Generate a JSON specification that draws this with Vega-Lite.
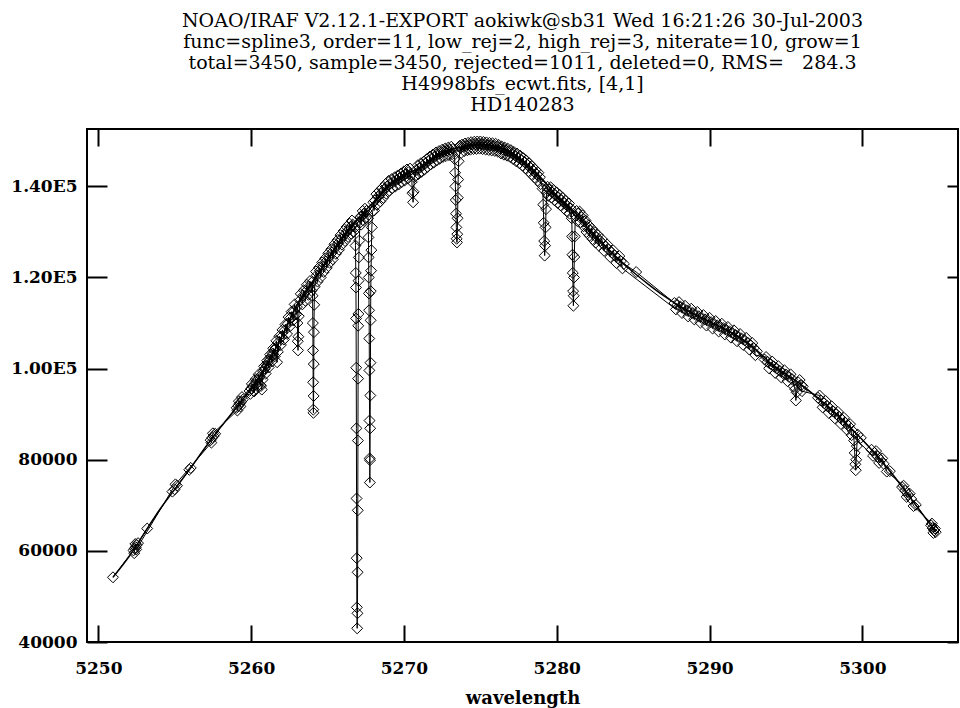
{
  "$schema": "https://vega.github.io/schema/vega-lite/v6.json",
  "autosize": {"type": "none"},
  "width": 871,
  "height": 513,
  "padding": {"left": 87, "top": 129, "right": 2, "bottom": 66},
  "background": "white",
  "config": {
    "view": {"stroke": "black", "strokeWidth": 2},
    "title": {"font": "DejaVu Serif"},
    "axis": {
      "labelFont": "DejaVu Serif",
      "labelFontWeight": "bold",
      "labelFontSize": 17,
      "labelColor": "black",
      "tickColor": "black",
      "tickWidth": 2,
      "domain": false,
      "grid": false,
      "titleFont": "DejaVu Serif",
      "titleFontWeight": "bold",
      "titleFontSize": 18,
      "titleColor": "black"
    }
  },
  "title": {
    "text": [
      "NOAO/IRAF V2.12.1-EXPORT aokiwk@sb31 Wed 16:21:26 30-Jul-2003",
      "func=spline3, order=11, low_rej=2, high_rej=3, niterate=10, grow=1",
      "total=3450, sample=3450, rejected=1011, deleted=0, RMS=\u00a0\u00a0\u00a0284.3",
      "H4998bfs_ecwt.fits, [4,1]",
      "HD140283"
    ],
    "anchor": "middle",
    "font": "DejaVu Serif",
    "fontSize": 19,
    "fontWeight": "normal",
    "color": "black",
    "lineHeight": 21,
    "offset": 13
  },
  "datasets": {
    "spec": [
      {"w": 5250.96, "f": 54200}, {"w": 5252.30, "f": 60100}, {"w": 5252.38, "f": 60500}, {"w": 5252.45, "f": 60800}, {"w": 5252.52, "f": 61300}, {"w": 5252.60, "f": 61700},
      {"w": 5253.20, "f": 64900}, {"w": 5254.85, "f": 73000}, {"w": 5255.00, "f": 73500}, {"w": 5255.15, "f": 74300}, {"w": 5255.95, "f": 77800}, {"w": 5256.05, "f": 78200},
      {"w": 5257.35, "f": 84300}, {"w": 5257.45, "f": 84800}, {"w": 5257.55, "f": 85200}, {"w": 5257.65, "f": 85700},
      {"w": 5259.05, "f": 91400}, {"w": 5259.15, "f": 91800}, {"w": 5259.25, "f": 92300}, {"w": 5259.35, "f": 92700}, {"w": 5259.45, "f": 93200},
      {"w": 5259.90, "f": 95100}, {"w": 5260.00, "f": 95600}, {"w": 5260.10, "f": 96100}, {"w": 5260.20, "f": 95000}, {"w": 5260.25, "f": 96600}, {"w": 5260.35, "f": 97200},
      {"w": 5260.45, "f": 97700}, {"w": 5260.55, "f": 98200}, {"w": 5260.65, "f": 96200}, {"w": 5260.70, "f": 95400}, {"w": 5260.75, "f": 97600}, {"w": 5260.80, "f": 99400},
      {"w": 5260.90, "f": 100000}, {"w": 5261.00, "f": 100600}, {"w": 5261.10, "f": 101300}, {"w": 5261.20, "f": 102000}, {"w": 5261.30, "f": 102600}, {"w": 5261.40, "f": 103300},
      {"w": 5261.50, "f": 104000}, {"w": 5261.60, "f": 104500}, {"w": 5261.70, "f": 101400}, {"w": 5261.80, "f": 105800}, {"w": 5262.00, "f": 107000}, {"w": 5262.20, "f": 108400},
      {"w": 5262.40, "f": 109800}, {"w": 5262.60, "f": 111200}, {"w": 5262.80, "f": 112600}, {"w": 5263.00, "f": 113500}, {"w": 5263.03, "f": 110000}, {"w": 5263.05, "f": 106000},
      {"w": 5263.07, "f": 104000}, {"w": 5263.09, "f": 107000}, {"w": 5263.12, "f": 111500}, {"w": 5263.20, "f": 115000}, {"w": 5263.40, "f": 116000}, {"w": 5263.60, "f": 117000},
      {"w": 5263.80, "f": 118000}, {"w": 5264.00, "f": 119000}, {"w": 5264.02, "f": 116000}, {"w": 5264.04, "f": 110000}, {"w": 5264.05, "f": 104000}, {"w": 5264.06, "f": 97000},
      {"w": 5264.07, "f": 91000}, {"w": 5264.08, "f": 90300}, {"w": 5264.09, "f": 94000}, {"w": 5264.10, "f": 101000}, {"w": 5264.11, "f": 108000}, {"w": 5264.13, "f": 114000},
      {"w": 5264.16, "f": 118000}, {"w": 5264.30, "f": 120500}, {"w": 5264.50, "f": 121500}, {"w": 5264.70, "f": 122500}, {"w": 5264.90, "f": 123500}, {"w": 5265.10, "f": 124500},
      {"w": 5265.30, "f": 125500}, {"w": 5265.50, "f": 126500}, {"w": 5265.70, "f": 127500}, {"w": 5265.90, "f": 128500}, {"w": 5266.10, "f": 129400}, {"w": 5266.30, "f": 130200},
      {"w": 5266.50, "f": 131000}, {"w": 5266.65, "f": 131600}, {"w": 5266.80, "f": 131000}, {"w": 5266.83, "f": 127000}, {"w": 5266.85, "f": 121000}, {"w": 5266.86, "f": 117800},
      {"w": 5266.87, "f": 111000}, {"w": 5266.88, "f": 100200}, {"w": 5266.89, "f": 86900}, {"w": 5266.90, "f": 71500}, {"w": 5266.91, "f": 58400}, {"w": 5266.92, "f": 47600},
      {"w": 5266.94, "f": 43000}, {"w": 5266.96, "f": 46300}, {"w": 5266.97, "f": 55300}, {"w": 5266.98, "f": 68900}, {"w": 5266.99, "f": 84200}, {"w": 5267.00, "f": 97800},
      {"w": 5267.01, "f": 109400}, {"w": 5267.02, "f": 112000}, {"w": 5267.03, "f": 119300}, {"w": 5267.05, "f": 124400}, {"w": 5267.08, "f": 128100}, {"w": 5267.12, "f": 132000},
      {"w": 5267.25, "f": 133500}, {"w": 5267.40, "f": 134000}, {"w": 5267.55, "f": 134600}, {"w": 5267.66, "f": 133000}, {"w": 5267.68, "f": 128800}, {"w": 5267.69, "f": 124400},
      {"w": 5267.70, "f": 120000}, {"w": 5267.71, "f": 116500}, {"w": 5267.72, "f": 112800}, {"w": 5267.73, "f": 106600}, {"w": 5267.74, "f": 99600}, {"w": 5267.75, "f": 88600},
      {"w": 5267.76, "f": 80300}, {"w": 5267.77, "f": 75000}, {"w": 5267.78, "f": 79900}, {"w": 5267.79, "f": 86900}, {"w": 5267.80, "f": 94100}, {"w": 5267.81, "f": 101300},
      {"w": 5267.82, "f": 110600}, {"w": 5267.83, "f": 117000}, {"w": 5267.85, "f": 121500}, {"w": 5267.87, "f": 126000}, {"w": 5267.90, "f": 131000}, {"w": 5267.95, "f": 134500},
      {"w": 5268.10, "f": 136900}, {"w": 5268.30, "f": 137700}, {"w": 5268.50, "f": 138400}, {"w": 5268.70, "f": 139200}, {"w": 5268.90, "f": 140000}, {"w": 5269.10, "f": 140600},
      {"w": 5269.30, "f": 141000}, {"w": 5269.50, "f": 141400}, {"w": 5269.70, "f": 141800}, {"w": 5269.90, "f": 142300}, {"w": 5270.10, "f": 142700}, {"w": 5270.30, "f": 143100},
      {"w": 5270.52, "f": 141000}, {"w": 5270.56, "f": 138500}, {"w": 5270.60, "f": 136500}, {"w": 5270.64, "f": 138800}, {"w": 5270.68, "f": 142000}, {"w": 5270.80, "f": 143600},
      {"w": 5271.00, "f": 144000}, {"w": 5271.20, "f": 144500}, {"w": 5271.40, "f": 145000}, {"w": 5271.60, "f": 145600}, {"w": 5271.80, "f": 146100}, {"w": 5272.00, "f": 146500},
      {"w": 5272.20, "f": 147000}, {"w": 5272.40, "f": 147300}, {"w": 5272.60, "f": 147600}, {"w": 5272.80, "f": 147800}, {"w": 5273.00, "f": 148000}, {"w": 5273.20, "f": 148200},
      {"w": 5273.32, "f": 146000}, {"w": 5273.35, "f": 143000}, {"w": 5273.37, "f": 140000}, {"w": 5273.39, "f": 137000}, {"w": 5273.41, "f": 134000}, {"w": 5273.43, "f": 131000},
      {"w": 5273.45, "f": 128500}, {"w": 5273.47, "f": 127700}, {"w": 5273.49, "f": 129500}, {"w": 5273.51, "f": 133000}, {"w": 5273.53, "f": 137500}, {"w": 5273.55, "f": 141500},
      {"w": 5273.58, "f": 145500}, {"w": 5273.70, "f": 148400}, {"w": 5273.90, "f": 148700}, {"w": 5274.10, "f": 148900}, {"w": 5274.30, "f": 149000}, {"w": 5274.50, "f": 149200},
      {"w": 5274.70, "f": 149200}, {"w": 5274.90, "f": 149300}, {"w": 5275.10, "f": 149200}, {"w": 5275.30, "f": 149100}, {"w": 5275.50, "f": 149000}, {"w": 5275.70, "f": 148900},
      {"w": 5275.90, "f": 148800}, {"w": 5276.10, "f": 148700}, {"w": 5276.30, "f": 148300}, {"w": 5276.50, "f": 148000}, {"w": 5276.70, "f": 147800}, {"w": 5276.90, "f": 147500},
      {"w": 5277.10, "f": 147200}, {"w": 5277.30, "f": 146700}, {"w": 5277.50, "f": 146300}, {"w": 5277.70, "f": 145800}, {"w": 5277.90, "f": 145300}, {"w": 5278.10, "f": 144700},
      {"w": 5278.30, "f": 144000}, {"w": 5278.50, "f": 143300}, {"w": 5278.70, "f": 142600}, {"w": 5278.90, "f": 142000}, {"w": 5279.08, "f": 139500}, {"w": 5279.12, "f": 136000},
      {"w": 5279.15, "f": 132000}, {"w": 5279.18, "f": 128000}, {"w": 5279.21, "f": 124800}, {"w": 5279.24, "f": 127000}, {"w": 5279.27, "f": 131000}, {"w": 5279.30, "f": 135000},
      {"w": 5279.34, "f": 138600}, {"w": 5279.50, "f": 139300}, {"w": 5279.70, "f": 138700}, {"w": 5279.90, "f": 138100}, {"w": 5280.10, "f": 137600}, {"w": 5280.30, "f": 137000},
      {"w": 5280.50, "f": 136300}, {"w": 5280.70, "f": 135700}, {"w": 5280.90, "f": 135200}, {"w": 5280.98, "f": 133000}, {"w": 5281.01, "f": 129000}, {"w": 5281.03, "f": 125000},
      {"w": 5281.05, "f": 121000}, {"w": 5281.07, "f": 117000}, {"w": 5281.09, "f": 113800}, {"w": 5281.11, "f": 116000}, {"w": 5281.13, "f": 120000}, {"w": 5281.15, "f": 124500},
      {"w": 5281.18, "f": 129000}, {"w": 5281.22, "f": 133500}, {"w": 5281.40, "f": 134000}, {"w": 5281.60, "f": 133300}, {"w": 5281.80, "f": 132300}, {"w": 5282.00, "f": 131000},
      {"w": 5282.20, "f": 130300}, {"w": 5282.40, "f": 129500}, {"w": 5282.60, "f": 128800}, {"w": 5282.85, "f": 128000}, {"w": 5283.00, "f": 127500}, {"w": 5283.20, "f": 126800},
      {"w": 5283.40, "f": 126100}, {"w": 5283.60, "f": 125500}, {"w": 5283.80, "f": 124800}, {"w": 5284.00, "f": 124200}, {"w": 5284.20, "f": 123600}, {"w": 5284.40, "f": 123000},
      {"w": 5285.20, "f": 121200}, {"w": 5287.70, "f": 114400}, {"w": 5287.90, "f": 114000}, {"w": 5288.10, "f": 113600}, {"w": 5288.30, "f": 113200}, {"w": 5288.50, "f": 112800},
      {"w": 5288.70, "f": 112500}, {"w": 5288.90, "f": 112200}, {"w": 5289.10, "f": 111800}, {"w": 5289.30, "f": 111500}, {"w": 5289.50, "f": 111100}, {"w": 5289.70, "f": 110800},
      {"w": 5289.90, "f": 110500}, {"w": 5290.10, "f": 110200}, {"w": 5290.30, "f": 109800}, {"w": 5290.50, "f": 109500}, {"w": 5290.70, "f": 109200}, {"w": 5290.90, "f": 108900},
      {"w": 5291.10, "f": 108500}, {"w": 5291.30, "f": 108200}, {"w": 5291.50, "f": 107800}, {"w": 5291.70, "f": 107400}, {"w": 5291.90, "f": 107000}, {"w": 5292.10, "f": 106600},
      {"w": 5292.30, "f": 106200}, {"w": 5292.50, "f": 105700}, {"w": 5292.70, "f": 105100}, {"w": 5292.90, "f": 104500}, {"w": 5293.10, "f": 103800}, {"w": 5293.60, "f": 102000},
      {"w": 5293.80, "f": 101500}, {"w": 5294.00, "f": 101000}, {"w": 5294.20, "f": 100500}, {"w": 5294.40, "f": 100000}, {"w": 5294.60, "f": 99500}, {"w": 5294.80, "f": 99000},
      {"w": 5295.00, "f": 98700}, {"w": 5295.20, "f": 98200}, {"w": 5295.40, "f": 97700}, {"w": 5295.60, "f": 95500}, {"w": 5295.65, "f": 93000}, {"w": 5295.70, "f": 94800},
      {"w": 5295.80, "f": 97000}, {"w": 5296.00, "f": 96400}, {"w": 5296.10, "f": 96100}, {"w": 5297.10, "f": 93600}, {"w": 5297.30, "f": 93000}, {"w": 5297.50, "f": 92400},
      {"w": 5297.70, "f": 91800}, {"w": 5297.90, "f": 91200}, {"w": 5298.10, "f": 90600}, {"w": 5298.30, "f": 90000}, {"w": 5298.50, "f": 89400}, {"w": 5298.70, "f": 88700},
      {"w": 5298.90, "f": 88100}, {"w": 5299.10, "f": 87400}, {"w": 5299.40, "f": 86200}, {"w": 5299.46, "f": 84200}, {"w": 5299.50, "f": 81500}, {"w": 5299.54, "f": 79000},
      {"w": 5299.57, "f": 77700}, {"w": 5299.60, "f": 80000}, {"w": 5299.64, "f": 83000}, {"w": 5299.70, "f": 85500}, {"w": 5299.90, "f": 84800}, {"w": 5300.60, "f": 82200},
      {"w": 5300.80, "f": 81500}, {"w": 5301.00, "f": 80700}, {"w": 5301.20, "f": 79900}, {"w": 5301.40, "f": 79100}, {"w": 5301.80, "f": 77500}, {"w": 5302.60, "f": 74000},
      {"w": 5302.80, "f": 73200}, {"w": 5303.00, "f": 72300}, {"w": 5303.20, "f": 71400}, {"w": 5303.50, "f": 70100}, {"w": 5304.50, "f": 65600}, {"w": 5304.60, "f": 65000},
      {"w": 5304.70, "f": 64500}, {"w": 5304.80, "f": 64100}
    ],
    "extra": [
      {"w": 5252.35, "f": 59500}, {"w": 5252.42, "f": 61500}, {"w": 5252.48, "f": 60300}, {"w": 5255.05, "f": 74600}, {"w": 5257.40, "f": 83750}, {"w": 5257.50, "f": 85800},
      {"w": 5259.10, "f": 90800}, {"w": 5259.20, "f": 92850}, {"w": 5259.30, "f": 91700}, {"w": 5259.40, "f": 93750}, {"w": 5259.95, "f": 94450}, {"w": 5260.05, "f": 96650},
      {"w": 5260.15, "f": 95100}, {"w": 5260.30, "f": 97700}, {"w": 5260.40, "f": 96150}, {"w": 5260.50, "f": 98750}, {"w": 5260.60, "f": 96400}, {"w": 5260.85, "f": 100500},
      {"w": 5260.95, "f": 98900}, {"w": 5261.05, "f": 101750}, {"w": 5261.15, "f": 100250}, {"w": 5261.25, "f": 103100}, {"w": 5261.35, "f": 101550}, {"w": 5261.45, "f": 104450},
      {"w": 5261.55, "f": 102700}, {"w": 5261.65, "f": 106100}, {"w": 5261.75, "f": 103700}, {"w": 5261.85, "f": 107100}, {"w": 5261.95, "f": 105200}, {"w": 5262.05, "f": 108500},
      {"w": 5262.15, "f": 106400}, {"w": 5262.25, "f": 109700}, {"w": 5262.35, "f": 107600}, {"w": 5262.45, "f": 111300}, {"w": 5262.55, "f": 109300}, {"w": 5262.65, "f": 112500},
      {"w": 5262.75, "f": 110600}, {"w": 5262.85, "f": 114100}, {"w": 5262.95, "f": 111900}, {"w": 5263.25, "f": 116400}, {"w": 5263.35, "f": 114100}, {"w": 5263.45, "f": 117200},
      {"w": 5263.55, "f": 114900}, {"w": 5263.65, "f": 118400}, {"w": 5263.75, "f": 116200}, {"w": 5263.85, "f": 119200}, {"w": 5263.95, "f": 117100}, {"w": 5264.25, "f": 121300},
      {"w": 5264.35, "f": 119100}, {"w": 5264.45, "f": 122200}, {"w": 5264.55, "f": 120000}, {"w": 5264.65, "f": 123300}, {"w": 5264.75, "f": 121200}, {"w": 5264.85, "f": 124200},
      {"w": 5264.95, "f": 122100}, {"w": 5265.05, "f": 125300}, {"w": 5265.15, "f": 123200}, {"w": 5265.25, "f": 126200}, {"w": 5265.35, "f": 124000}, {"w": 5265.45, "f": 127300},
      {"w": 5265.55, "f": 125200}, {"w": 5265.65, "f": 128200}, {"w": 5265.75, "f": 126100}, {"w": 5265.85, "f": 129300}, {"w": 5265.95, "f": 127200}, {"w": 5266.05, "f": 130200},
      {"w": 5266.15, "f": 128000}, {"w": 5266.25, "f": 131100}, {"w": 5266.35, "f": 128900}, {"w": 5266.45, "f": 131800}, {"w": 5266.55, "f": 129600}, {"w": 5266.60, "f": 132500},
      {"w": 5266.70, "f": 130000}, {"w": 5267.15, "f": 133300}, {"w": 5267.20, "f": 131600}, {"w": 5267.30, "f": 134600}, {"w": 5267.35, "f": 132500}, {"w": 5267.45, "f": 135100},
      {"w": 5267.50, "f": 133100}, {"w": 5268.00, "f": 136500}, {"w": 5268.05, "f": 134700}, {"w": 5268.20, "f": 138300}, {"w": 5268.25, "f": 136000}, {"w": 5268.40, "f": 139000},
      {"w": 5268.45, "f": 136700}, {"w": 5268.60, "f": 139700}, {"w": 5268.65, "f": 137500}, {"w": 5268.80, "f": 140500}, {"w": 5268.85, "f": 138400}, {"w": 5269.00, "f": 141200},
      {"w": 5269.05, "f": 139050}, {"w": 5269.20, "f": 141600}, {"w": 5269.25, "f": 139600}, {"w": 5269.40, "f": 142000}, {"w": 5269.45, "f": 140000}, {"w": 5269.60, "f": 142400},
      {"w": 5269.65, "f": 140400}, {"w": 5269.80, "f": 142800}, {"w": 5269.85, "f": 140900}, {"w": 5270.00, "f": 143300}, {"w": 5270.05, "f": 141300}, {"w": 5270.20, "f": 143700},
      {"w": 5270.25, "f": 141700}, {"w": 5270.40, "f": 143900}, {"w": 5270.75, "f": 142300}, {"w": 5270.90, "f": 144600}, {"w": 5270.95, "f": 142700}, {"w": 5271.10, "f": 145050},
      {"w": 5271.15, "f": 143200}, {"w": 5271.30, "f": 145450}, {"w": 5271.35, "f": 143700}, {"w": 5271.50, "f": 146000}, {"w": 5271.55, "f": 144250}, {"w": 5271.70, "f": 146550},
      {"w": 5271.75, "f": 144800}, {"w": 5271.90, "f": 147000}, {"w": 5271.95, "f": 145200}, {"w": 5272.10, "f": 147450}, {"w": 5272.15, "f": 145700}, {"w": 5272.30, "f": 147750},
      {"w": 5272.35, "f": 146050}, {"w": 5272.50, "f": 148050}, {"w": 5272.55, "f": 146450}, {"w": 5272.70, "f": 148300}, {"w": 5272.75, "f": 146650}, {"w": 5272.90, "f": 148500},
      {"w": 5272.95, "f": 146850}, {"w": 5273.10, "f": 148700}, {"w": 5273.15, "f": 147050}, {"w": 5273.65, "f": 148900}, {"w": 5273.75, "f": 147350}, {"w": 5273.80, "f": 149150},
      {"w": 5273.95, "f": 147750}, {"w": 5274.00, "f": 149400}, {"w": 5274.15, "f": 147920}, {"w": 5274.20, "f": 149550}, {"w": 5274.35, "f": 148050}, {"w": 5274.40, "f": 149700},
      {"w": 5274.55, "f": 148200}, {"w": 5274.60, "f": 149800}, {"w": 5274.75, "f": 148220}, {"w": 5274.80, "f": 149850}, {"w": 5274.95, "f": 148280}, {"w": 5275.00, "f": 149850},
      {"w": 5275.15, "f": 148180}, {"w": 5275.20, "f": 149750}, {"w": 5275.35, "f": 148080}, {"w": 5275.40, "f": 149650}, {"w": 5275.55, "f": 147980}, {"w": 5275.60, "f": 149550},
      {"w": 5275.75, "f": 147880}, {"w": 5275.80, "f": 149450}, {"w": 5275.95, "f": 147780}, {"w": 5276.00, "f": 149350}, {"w": 5276.15, "f": 147600}, {"w": 5276.20, "f": 149100},
      {"w": 5276.35, "f": 147230}, {"w": 5276.40, "f": 148750}, {"w": 5276.55, "f": 146950}, {"w": 5276.60, "f": 148500}, {"w": 5276.75, "f": 146730}, {"w": 5276.80, "f": 148250},
      {"w": 5276.95, "f": 146430}, {"w": 5277.00, "f": 147950}, {"w": 5277.15, "f": 145980}, {"w": 5277.20, "f": 147550}, {"w": 5277.35, "f": 145500}, {"w": 5277.40, "f": 147200},
      {"w": 5277.55, "f": 145080}, {"w": 5277.60, "f": 146750}, {"w": 5277.75, "f": 144580}, {"w": 5277.80, "f": 146250}, {"w": 5277.95, "f": 143950}, {"w": 5278.00, "f": 145700},
      {"w": 5278.15, "f": 143330}, {"w": 5278.20, "f": 145050}, {"w": 5278.35, "f": 142630}, {"w": 5278.40, "f": 144350}, {"w": 5278.55, "f": 141930}, {"w": 5278.60, "f": 143650},
      {"w": 5278.75, "f": 141250}, {"w": 5278.80, "f": 143000}, {"w": 5278.95, "f": 140500}, {"w": 5279.40, "f": 139900}, {"w": 5279.45, "f": 137900}, {"w": 5279.60, "f": 139800},
      {"w": 5279.65, "f": 137550}, {"w": 5279.80, "f": 139200}, {"w": 5279.85, "f": 136950}, {"w": 5280.00, "f": 138650}, {"w": 5280.05, "f": 136400}, {"w": 5280.20, "f": 138100},
      {"w": 5280.25, "f": 135850}, {"w": 5280.40, "f": 137450}, {"w": 5280.45, "f": 135200}, {"w": 5280.60, "f": 136800}, {"w": 5280.65, "f": 134550}, {"w": 5280.80, "f": 136250},
      {"w": 5280.85, "f": 134000}, {"w": 5281.30, "f": 134600}, {"w": 5281.35, "f": 132400}, {"w": 5281.50, "f": 134450}, {"w": 5281.55, "f": 132150}, {"w": 5281.70, "f": 133600},
      {"w": 5281.75, "f": 131250}, {"w": 5281.90, "f": 132450}, {"w": 5281.95, "f": 130000}, {"w": 5282.10, "f": 131450}, {"w": 5282.15, "f": 129200}, {"w": 5282.30, "f": 130700},
      {"w": 5282.35, "f": 128400}, {"w": 5282.50, "f": 129950}, {"w": 5282.55, "f": 127650}, {"w": 5282.70, "f": 129300}, {"w": 5282.75, "f": 127000}, {"w": 5282.95, "f": 128450},
      {"w": 5283.10, "f": 125850}, {"w": 5283.30, "f": 127250}, {"w": 5283.50, "f": 124500}, {"w": 5283.70, "f": 125950}, {"w": 5283.90, "f": 123200}, {"w": 5284.10, "f": 124700},
      {"w": 5284.30, "f": 122000}, {"w": 5287.80, "f": 113000}, {"w": 5288.00, "f": 114600}, {"w": 5288.20, "f": 112200}, {"w": 5288.40, "f": 113800}, {"w": 5288.60, "f": 111450},
      {"w": 5288.80, "f": 113150}, {"w": 5289.00, "f": 110800}, {"w": 5289.20, "f": 112450}, {"w": 5289.40, "f": 110100}, {"w": 5289.60, "f": 111750}, {"w": 5289.80, "f": 109450},
      {"w": 5290.00, "f": 111150}, {"w": 5290.20, "f": 108800}, {"w": 5290.40, "f": 110450}, {"w": 5290.60, "f": 108150}, {"w": 5290.80, "f": 109850}, {"w": 5291.00, "f": 107500},
      {"w": 5291.20, "f": 109150}, {"w": 5291.40, "f": 106800}, {"w": 5291.60, "f": 108400}, {"w": 5291.80, "f": 106000}, {"w": 5292.00, "f": 107600}, {"w": 5292.20, "f": 105200},
      {"w": 5292.40, "f": 106750}, {"w": 5292.60, "f": 104200}, {"w": 5292.80, "f": 105600}, {"w": 5293.00, "f": 102950}, {"w": 5293.70, "f": 102550}, {"w": 5293.90, "f": 100050},
      {"w": 5294.10, "f": 101550}, {"w": 5294.30, "f": 99050}, {"w": 5294.50, "f": 100550}, {"w": 5294.70, "f": 98050}, {"w": 5294.90, "f": 99650}, {"w": 5295.10, "f": 97250},
      {"w": 5295.30, "f": 98750}, {"w": 5295.50, "f": 96100}, {"w": 5295.90, "f": 97500}, {"w": 5296.05, "f": 95050}, {"w": 5297.20, "f": 94100}, {"w": 5297.40, "f": 91500},
      {"w": 5297.60, "f": 92900}, {"w": 5297.80, "f": 90300}, {"w": 5298.00, "f": 91700}, {"w": 5298.20, "f": 89100}, {"w": 5298.40, "f": 90500}, {"w": 5298.60, "f": 87850},
      {"w": 5298.80, "f": 89200}, {"w": 5299.00, "f": 86550}, {"w": 5299.20, "f": 87800}, {"w": 5299.30, "f": 85400}, {"w": 5300.70, "f": 80850}, {"w": 5300.90, "f": 81900},
      {"w": 5301.10, "f": 79300}, {"w": 5301.30, "f": 80300}, {"w": 5301.60, "f": 77400}, {"w": 5302.70, "f": 74300}, {"w": 5302.90, "f": 71850}, {"w": 5303.10, "f": 72550},
      {"w": 5303.35, "f": 69850}, {"w": 5304.55, "f": 66000}, {"w": 5304.65, "f": 63950}, {"w": 5304.75, "f": 64900}
    ],
    "fit": [
      {"w": 5250.96, "f": 54200}, {"w": 5252.0, "f": 58700}, {"w": 5253.2, "f": 64900}, {"w": 5254.0, "f": 69000}, {"w": 5255.0, "f": 73500},
      {"w": 5256.0, "f": 78000}, {"w": 5257.0, "f": 82700}, {"w": 5258.0, "f": 87100}, {"w": 5259.0, "f": 91300}, {"w": 5260.0, "f": 95600},
      {"w": 5261.0, "f": 100600}, {"w": 5262.0, "f": 107000}, {"w": 5263.0, "f": 114000}, {"w": 5264.0, "f": 119000}, {"w": 5265.0, "f": 124000},
      {"w": 5266.0, "f": 129000}, {"w": 5267.0, "f": 133000}, {"w": 5268.0, "f": 136500}, {"w": 5269.0, "f": 140300}, {"w": 5270.0, "f": 142500},
      {"w": 5271.0, "f": 144000}, {"w": 5272.0, "f": 146500}, {"w": 5273.0, "f": 148000}, {"w": 5274.0, "f": 148800}, {"w": 5275.0, "f": 149200},
      {"w": 5276.0, "f": 148800}, {"w": 5277.0, "f": 147500}, {"w": 5278.0, "f": 145000}, {"w": 5279.0, "f": 141800}, {"w": 5280.0, "f": 138000},
      {"w": 5281.0, "f": 135000}, {"w": 5282.0, "f": 131000}, {"w": 5283.0, "f": 127500}, {"w": 5284.0, "f": 124200}, {"w": 5285.0, "f": 121200},
      {"w": 5286.0, "f": 118500}, {"w": 5287.0, "f": 116000}, {"w": 5288.0, "f": 113800}, {"w": 5289.0, "f": 112000}, {"w": 5290.0, "f": 110300},
      {"w": 5291.0, "f": 108700}, {"w": 5292.0, "f": 106800}, {"w": 5293.0, "f": 104300}, {"w": 5294.0, "f": 101200}, {"w": 5295.0, "f": 98800},
      {"w": 5296.0, "f": 96500}, {"w": 5297.0, "f": 93800}, {"w": 5298.0, "f": 91000}, {"w": 5299.0, "f": 87800}, {"w": 5300.0, "f": 84400},
      {"w": 5301.0, "f": 80700}, {"w": 5302.0, "f": 76700}, {"w": 5303.0, "f": 72300}, {"w": 5304.0, "f": 67800}, {"w": 5304.8, "f": 64200}
    ]
  },
  "layer": [
    {
      "data": {"name": "spec"},
      "mark": {"type": "line", "color": "black", "strokeWidth": 1, "clip": true},
      "encoding": {
        "x": {"field": "w", "type": "quantitative", "scale": {"domain": [5249.26, 5306.26], "nice": false, "zero": false},
          "axis": {"orient": "bottom", "values": [5250, 5260, 5270, 5280, 5290, 5300], "format": "d", "tickSize": -17, "labelPadding": 35, "title": "wavelength", "titlePadding": 13}},
        "y": {"field": "f", "type": "quantitative", "scale": {"domain": [40000, 152590], "nice": false, "zero": false},
          "axis": {"orient": "left", "values": [40000, 60000, 80000, 100000, 120000, 140000], "tickSize": -20, "labelPadding": 30, "title": null,
            "labelExpr": "datum.value >= 100000 ? format(datum.value / 100000, '.2f') + 'E5' : format(datum.value, 'd')"}}
      }
    },
    {
      "data": {"name": "extra"},
      "mark": {"type": "line", "color": "black", "strokeWidth": 1, "clip": true},
      "encoding": {
        "x": {"field": "w", "type": "quantitative", "axis": null},
        "y": {"field": "f", "type": "quantitative", "axis": null}
      }
    },
    {
      "data": {"name": "spec"},
      "mark": {"type": "point", "shape": "diamond", "filled": false, "stroke": "black", "strokeWidth": 1, "size": 120, "opacity": 1, "clip": true},
      "encoding": {
        "x": {"field": "w", "type": "quantitative", "axis": null},
        "y": {"field": "f", "type": "quantitative", "axis": null}
      }
    },
    {
      "data": {"name": "extra"},
      "mark": {"type": "point", "shape": "diamond", "filled": false, "stroke": "black", "strokeWidth": 1, "size": 120, "opacity": 1, "clip": true},
      "encoding": {
        "x": {"field": "w", "type": "quantitative", "axis": null},
        "y": {"field": "f", "type": "quantitative", "axis": null}
      }
    },
    {
      "data": {"name": "fit"},
      "mark": {"type": "line", "color": "black", "strokeWidth": 1.5, "interpolate": "monotone", "clip": true},
      "encoding": {
        "x": {"field": "w", "type": "quantitative",
          "axis": {"orient": "top", "values": [5250, 5260, 5270, 5280, 5290, 5300], "tickSize": -17, "labels": false, "title": null}},
        "y": {"field": "f", "type": "quantitative",
          "axis": {"orient": "right", "values": [40000, 60000, 80000, 100000, 120000, 140000], "tickSize": -11, "labels": false, "title": null}}
      }
    }
  ],
  "resolve": {"axis": {"x": "independent", "y": "independent"}}
}
